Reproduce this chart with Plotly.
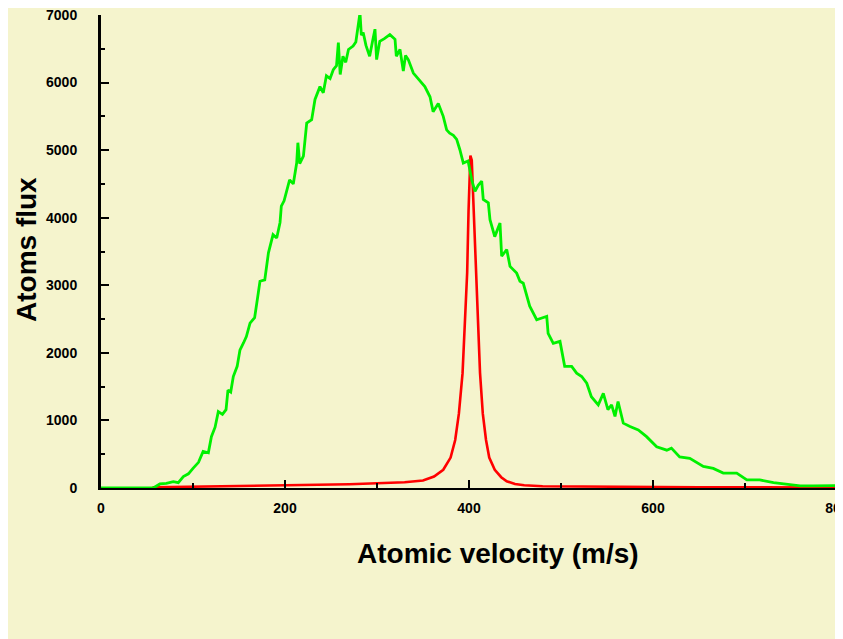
import plotly.graph_objects as go

# Green: broad velocity distribution
green_v = [0, 56.9, 64, 71, 78.6, 84, 89.5, 95, 100, 106, 111, 116.7, 120, 124, 127.5, 132, 135.9, 138, 141, 143.8,
           148, 151, 155, 158, 162, 167, 171, 172.8, 178, 182, 187, 191, 194.6, 196, 199, 201.8, 205, 209, 212.7,
           214, 216, 220, 223.6, 229, 232.6, 238, 241.6, 245, 249, 252.5, 256, 258, 260, 263, 266, 269, 274, 277,
           279.7, 281.5, 283, 285, 288, 292, 295, 297.8, 299.6, 303, 308, 314, 319.6, 321, 325, 328.6, 331, 334,
           339.5, 343, 346.7, 352, 357.6, 361, 366.6, 372, 375.7, 379, 383, 386.6, 390, 393.8, 399, 403, 406.5,
           410, 413.8, 415.5, 421, 422.8, 428, 433.7, 435.5, 441, 444.6, 451.8, 455.4, 459, 466, 473.6, 480,
           484.5, 486, 491.6, 498.9, 504, 511.6, 517, 522.5, 528, 533, 540.5, 546, 551, 555, 558.7, 562, 567.7,
           575, 584, 593, 604, 615, 620, 629, 640, 654.7, 665.5, 676.4, 691, 702, 716, 731, 745, 760, 774, 796, 800]
green_y = [0, 0, 60, 70, 95, 80, 170, 210, 290, 380, 540, 520, 760, 900, 1130, 1090, 1160, 1450, 1420, 1650,
           1800, 2040, 2150, 2240, 2440, 2520, 2890, 3060, 3080, 3480, 3750, 3700, 3930, 4170, 4250, 4410, 4560, 4500, 4810,
           5110, 4800, 4910, 5400, 5450, 5750, 5940, 5850, 6100, 6060, 6190, 6250, 6590, 6120, 6390, 6300, 6490, 6540, 6600,
           6860, 7030, 6700, 6740, 6550, 6390, 6600, 6790, 6340, 6610, 6650, 6710, 6640, 6390, 6490, 6170, 6400, 6340,
           6140, 6080, 6020, 5940, 5790, 5570, 5690, 5500, 5300, 5250, 5220, 5160, 5010, 4810, 4840, 4560, 4390,
           4480, 4540, 4270, 4220, 3970, 3720, 3920, 3430, 3530, 3280, 3180, 3060, 3030, 2690, 2490, 2520,
           2540, 2290, 2140, 2170, 1800, 1800, 1700, 1650, 1550, 1350, 1230, 1400, 1160, 1230, 1060, 1280, 960,
           910, 860, 760, 610, 560, 590, 460, 440, 320, 290, 220, 220, 120, 120, 80, 60, 30, 30, 35, 35]

# Red: narrow peak at ~400 m/s
red_v = [56, 110, 150, 190, 230, 270, 300, 330, 350, 362, 372, 380, 385, 389, 393, 396, 398, 399.5, 401.5,
         403, 405, 408, 410, 412, 415, 418.5, 422, 428, 435, 441, 450, 460, 480, 520, 560, 600, 650, 700, 750, 800]
red_y = [10, 20, 25, 30, 40, 55, 70, 85, 110, 170, 270, 450, 710, 1100, 1700, 2500, 3185, 4100, 4920,
         4850, 4200, 3185, 2400, 1700, 1100, 710, 450, 270, 160, 100, 60, 40, 25, 20, 15, 15, 12, 10, 10, 8]

x_ticks = [0, 200, 400, 600, 800]
y_ticks = [0, 1000, 2000, 3000, 4000, 5000, 6000, 7000]

cream = "#F5F4CD"

fig = go.Figure()
fig.add_trace(go.Scatter(x=red_v, y=red_y, mode="lines", line=dict(color="#FF0000", width=2.6),
                         cliponaxis=False, showlegend=False))
fig.add_trace(go.Scatter(x=green_v, y=green_y, mode="lines", line=dict(color="#00F000", width=2.8),
                         cliponaxis=False, showlegend=False))

tickfont = dict(family="Liberation Sans, Arial", size=14, color="black", weight="bold")

fig.update_layout(
    width=835, height=631, autosize=False,
    margin=dict(l=93, r=6, t=7, b=151, autoexpand=False),
    paper_bgcolor=cream, plot_bgcolor=cream,
    showlegend=False,
    xaxis=dict(range=[0, 800], tickvals=x_ticks, ticktext=[str(v) for v in x_ticks],
               ticks="inside", ticklen=8, tickwidth=2, tickcolor="black",
               minor=dict(ticks="inside", ticklen=5, tickwidth=2, tickcolor="black", dtick=100),
               showline=True, linecolor="black", linewidth=1.5, showgrid=False, zeroline=False,
               tickfont=tickfont, ticklabelstandoff=6, ticklabeloverflow="allow"),
    yaxis=dict(range=[0, 7000], tickvals=y_ticks, ticktext=[str(v) for v in y_ticks],
               ticks="inside", ticklen=8, tickwidth=2, tickcolor="black",
               minor=dict(ticks="inside", ticklen=4, tickwidth=2, tickcolor="black", dtick=500),
               showline=True, linecolor="black", linewidth=3, showgrid=False, zeroline=False,
               tickfont=tickfont, ticklabelstandoff=18, ticklabeloverflow="allow"),
    annotations=[
        dict(text="Atomic velocity (m/s)", xref="paper", yref="paper",
             x=(498 - 101) / 736, y=(488 - 553) / 473, xanchor="center", yanchor="middle",
             showarrow=False, font=dict(family="Liberation Sans, Arial", size=28, color="black", weight="bold")),
        dict(text="Atoms flux", xref="paper", yref="paper", textangle=-90,
             x=(27 - 101) / 736, y=(488 - 250) / 473, xanchor="center", yanchor="middle",
             showarrow=False, font=dict(family="Liberation Sans, Arial", size=28, color="black", weight="bold")),
    ],
)

fig.write_html("out.html", config={"responsive": False},
               post_script="document.body.style.overflow='hidden';")
